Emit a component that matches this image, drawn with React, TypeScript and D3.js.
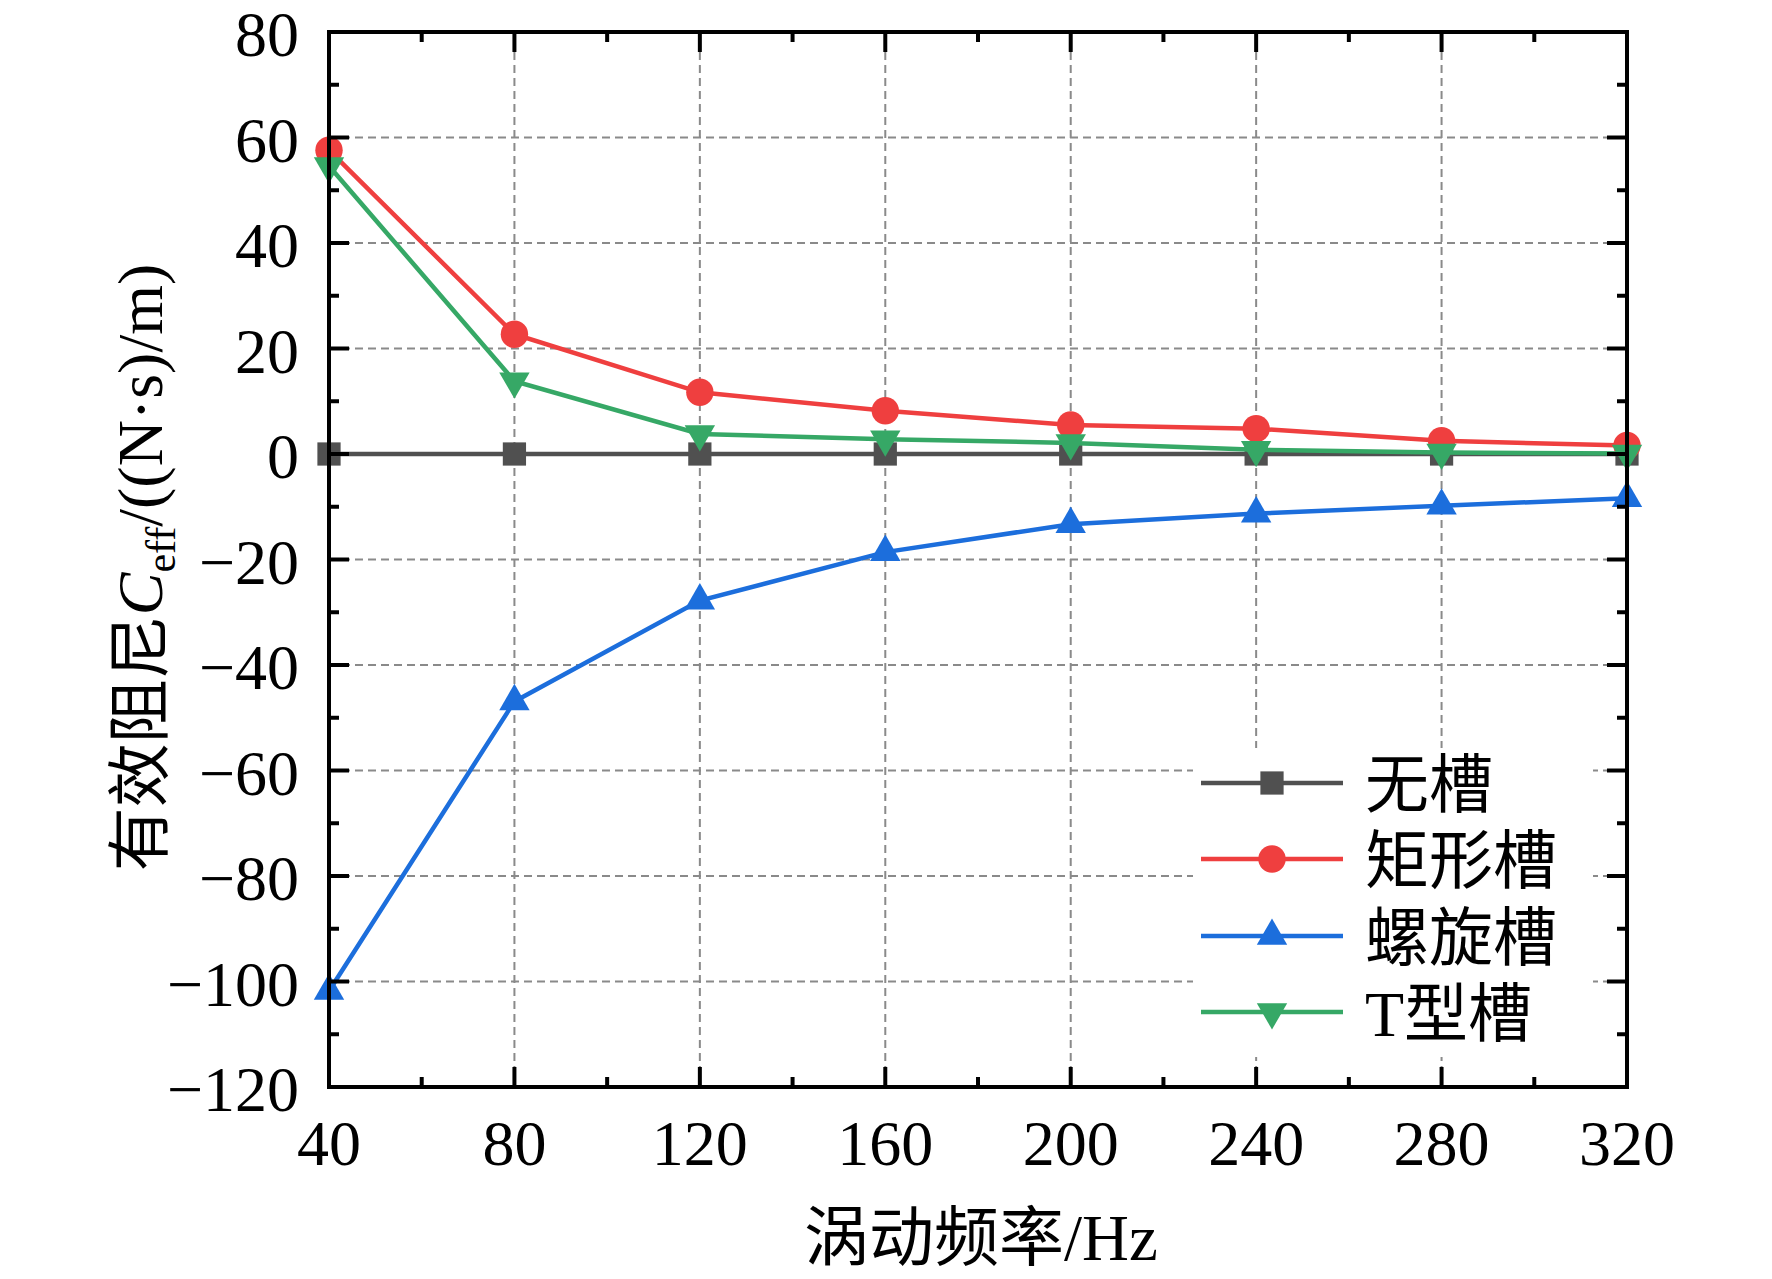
import * as d3 from 'd3';
import { useEffect, useRef } from 'react';

// 涡动频率 (Hz)
const freqs = [40, 80, 120, 160, 200, 240, 280, 320];

// 有效阻尼 Ceff, (N·s)/m
const noGroove = [0, 0, 0, 0, 0, 0, 0, 0];
const rectGroove = [57.6, 22.7, 11.7, 8.2, 5.5, 4.8, 2.5, 1.6];
const spiralGroove = [-101.8, -46.9, -27.8, -18.6, -13.3, -11.3, -9.8, -8.4];
const tGroove = [54.6, 13.8, 3.8, 2.8, 2.1, 0.8, 0.3, 0.1];

const seriesNames = ['无槽', '矩形槽', '螺旋槽', 'T型槽'];

const xTicks = [40, 80, 120, 160, 200, 240, 280, 320];
const xMinorTicks = [60, 100, 140, 180, 220, 260, 300];
const yTicks = [-120, -100, -80, -60, -40, -20, 0, 20, 40, 60, 80];
const yMinorTicks = [-110, -90, -70, -50, -30, -10, 10, 30, 50, 70];

const W = 1772;
const H = 1279;
const plot = { left: 329, right: 1627, top: 32, bottom: 1087 };
const serif = '"Liberation Serif", "Times New Roman", "Noto Sans CJK SC", serif';

export default function App() {
  const svgRef = useRef<SVGSVGElement>(null);

  useEffect(() => {
    const svg = d3.select(svgRef.current);
    svg.selectAll('*').remove();

    const x = d3.scaleLinear().domain([40, 320]).range([plot.left, plot.right]);
    const y = d3.scaleLinear().domain([-120, 80]).range([plot.bottom, plot.top]);

    const series = [
      { name: seriesNames[0], values: noGroove, color: '#505050', symbol: d3.symbolSquare, size: 540, rotate: 0 },
      { name: seriesNames[1], values: rectGroove, color: '#EF3F3F', symbol: d3.symbolCircle, size: 590, rotate: 0 },
      { name: seriesNames[2], values: spiralGroove, color: '#1C6EDC', symbol: d3.symbolTriangle, size: 400, rotate: 0 },
      { name: seriesNames[3], values: tGroove, color: '#36A866', symbol: d3.symbolTriangle, size: 400, rotate: 180 },
    ];

    // grid
    const grid = svg.append('g')
      .attr('stroke', '#8a8a8a')
      .attr('stroke-width', 2)
      .attr('stroke-dasharray', '8 5');
    xTicks.slice(1, -1).forEach(t => {
      grid.append('line')
        .attr('x1', x(t)).attr('x2', x(t))
        .attr('y1', plot.bottom).attr('y2', plot.top);
    });
    yTicks.slice(1, -1).forEach(t => {
      grid.append('line')
        .attr('x1', plot.left).attr('x2', plot.right)
        .attr('y1', y(t)).attr('y2', y(t));
    });

    // legend background hides the grid
    svg.append('rect')
      .attr('x', 1193).attr('y', 748)
      .attr('width', 400).attr('height', 309)
      .attr('fill', '#fff');

    const line = d3.line<number>()
      .x((_, i) => x(freqs[i]))
      .y(d => y(d));

    series.forEach(s => {
      svg.append('path')
        .datum(s.values)
        .attr('fill', 'none')
        .attr('stroke', s.color)
        .attr('stroke-width', 4.5)
        .attr('d', line);

      const sym = d3.symbol().type(s.symbol).size(s.size);
      svg.append('g')
        .selectAll('path')
        .data(s.values)
        .join('path')
        .attr('d', sym)
        .attr('fill', s.color)
        .attr('transform', (d, i) => `translate(${x(freqs[i])},${y(d)}) rotate(${s.rotate})`);
    });

    // frame
    svg.append('rect')
      .attr('x', plot.left).attr('y', plot.top)
      .attr('width', plot.right - plot.left)
      .attr('height', plot.bottom - plot.top)
      .attr('fill', 'none')
      .attr('stroke', '#000')
      .attr('stroke-width', 4);

    // ticks, inward on every side
    const ticks = svg.append('g').attr('stroke', '#000').attr('stroke-width', 4);
    const xTick = (t: number, len: number) => {
      ticks.append('line').attr('x1', x(t)).attr('x2', x(t))
        .attr('y1', plot.bottom).attr('y2', plot.bottom - len);
      ticks.append('line').attr('x1', x(t)).attr('x2', x(t))
        .attr('y1', plot.top).attr('y2', plot.top + len);
    };
    const yTick = (t: number, len: number) => {
      ticks.append('line').attr('x1', plot.left).attr('x2', plot.left + len)
        .attr('y1', y(t)).attr('y2', y(t));
      ticks.append('line').attr('x1', plot.right).attr('x2', plot.right - len)
        .attr('y1', y(t)).attr('y2', y(t));
    };
    xTicks.forEach(t => xTick(t, 20));
    xMinorTicks.forEach(t => xTick(t, 10));
    yTicks.forEach(t => yTick(t, 20));
    yMinorTicks.forEach(t => yTick(t, 10));

    // tick labels
    svg.append('g')
      .selectAll('text')
      .data(xTicks)
      .join('text')
      .attr('x', d => x(d))
      .attr('y', 1165)
      .attr('text-anchor', 'middle')
      .attr('font-family', serif)
      .attr('font-size', 64)
      .text(d => String(d));

    svg.append('g')
      .selectAll('text')
      .data(yTicks)
      .join('text')
      .attr('x', 299)
      .attr('y', d => y(d) + 24)
      .attr('text-anchor', 'end')
      .attr('font-family', serif)
      .attr('font-size', 64)
      .text(d => (d < 0 ? '\u2212' + Math.abs(d) : String(d)));

    // axis titles
    svg.append('text')
      .attr('x', (plot.left + plot.right) / 2 + 3)
      .attr('y', 1260)
      .attr('text-anchor', 'middle')
      .attr('font-family', serif)
      .attr('font-size', 65)
      .text('涡动频率/Hz');

    const yTitle = svg.append('text')
      .attr('transform', `translate(162,${(plot.top + plot.bottom) / 2 + 8}) rotate(-90)`)
      .attr('text-anchor', 'middle')
      .attr('font-family', serif)
      .attr('font-size', 64);
    yTitle.append('tspan').text('有效阻尼');
    yTitle.append('tspan').attr('font-style', 'italic').text('C');
    yTitle.append('tspan').attr('font-size', 42).attr('dy', 13).text('eff');
    yTitle.append('tspan').attr('dy', -13).text('/((N·s)/m)');

    // legend
    const rowY = [783, 859, 936, 1012];
    series.forEach((s, i) => {
      const g = svg.append('g').attr('transform', `translate(0,${rowY[i]})`);
      g.append('line')
        .attr('x1', 1201).attr('x2', 1343)
        .attr('y1', 0).attr('y2', 0)
        .attr('stroke', s.color)
        .attr('stroke-width', 4.5);
      g.append('path')
        .attr('d', d3.symbol().type(s.symbol).size(s.size)())
        .attr('fill', s.color)
        .attr('transform', `translate(1272,0) rotate(${s.rotate})`);
      g.append('text')
        .attr('x', 1365)
        .attr('y', 24)
        .attr('font-family', serif)
        .attr('font-size', 64)
        .text(s.name);
    });
  }, []);

  return (
    <svg
      ref={svgRef}
      width={W}
      height={H}
      viewBox={`0 0 ${W} ${H}`}
      style={{ position: 'absolute', left: 0, top: 0, display: 'block', background: '#fff' }}
    />
  );
}
